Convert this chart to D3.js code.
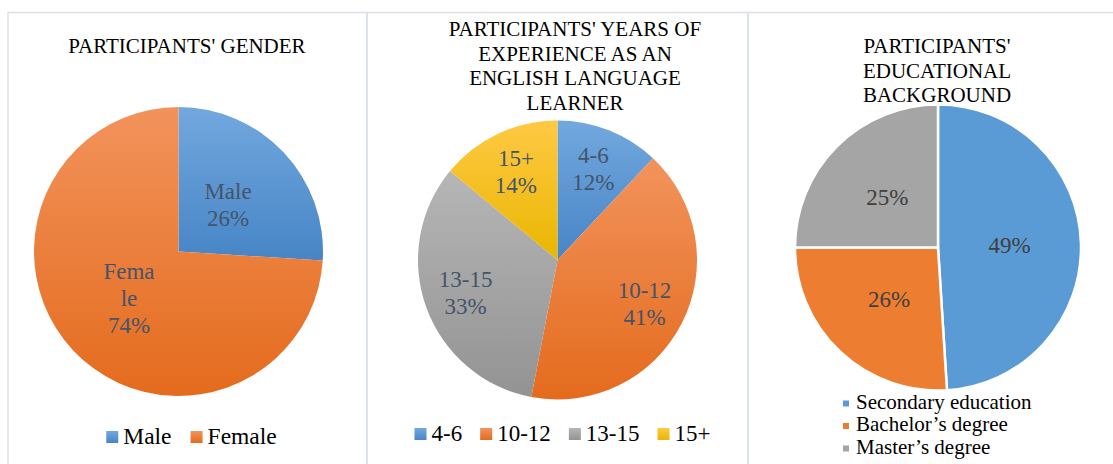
<!DOCTYPE html>
<html>
<head>
<meta charset="utf-8">
<script src="https://cdn.jsdelivr.net/npm/d3@7"></script>
<style>
  html, body { margin: 0; padding: 0; background: #fff; }
  svg text { font-family: "Liberation Serif", Tinos, "Times New Roman", Times, "DejaVu Serif", serif; }
</style>
</head>
<body>
<svg id="chart" width="1113" height="464"></svg>
<script>
// ---- data ----
const genderTitle = ["PARTICIPANTS' GENDER"];
const genderCats = ["Male", "Female"];
const genderLabels = [["Male", "26%"], ["Fema", "le", "74%"]];
const genderVals = [26, 74];

const expTitle = ["PARTICIPANTS' YEARS OF", "EXPERIENCE AS AN", "ENGLISH LANGUAGE", "LEARNER"];
const expCats = ["4-6", "10-12", "13-15", "15+"];
const expVals = [12, 41, 33, 14];

const eduTitle = ["PARTICIPANTS'", "EDUCATIONAL", "BACKGROUND"];
const eduCats = ["Secondary education", "Bachelor\u2019s degree", "Master\u2019s degree"];
const eduVals = [49, 26, 25];

const FONT = '"Liberation Serif", Tinos, "Times New Roman", Times, "DejaVu Serif", serif';

// ---- styles ----
const svg = d3.select("#chart");
const defs = svg.append("defs");
const palette = {
  blue:   {base: "#5b9bd5", top: "#72a8de", bot: "#4785c6"},
  orange: {base: "#ed7d31", top: "#f2935c", bot: "#e46b1d"},
  gray:   {base: "#a5a5a5", top: "#b6b6b6", bot: "#939393"},
  yellow: {base: "#ffc000", top: "#ffc944", bot: "#e9b600"}
};
Object.entries(palette).forEach(([k, c]) => {
  const g = defs.append("linearGradient").attr("id", "g-" + k)
    .attr("x1", 0).attr("y1", 0).attr("x2", 0).attr("y2", 1);
  g.append("stop").attr("offset", "0%").attr("stop-color", c.top);
  g.append("stop").attr("offset", "100%").attr("stop-color", c.bot);
});

// ---- panel frames ----
const frame = svg.append("g");
frame.append("line").attr("x1", 8).attr("x2", 1113).attr("y1", 12.5).attr("y2", 12.5)
  .attr("stroke", "#dbe0e6").attr("stroke-width", 1.5);
[8, 367, 748].forEach((x, i) => {
  frame.append("line").attr("x1", x).attr("x2", x).attr("y1", 12).attr("y2", 464)
    .attr("stroke", "#dce2e9").attr("stroke-width", i === 0 ? 1.5 : 2);
});

function drawTitle(lines, cx, firstBaseline, lh) {
  const t = svg.append("text").attr("text-anchor", "middle").attr("font-family", FONT)
    .attr("font-size", 21).attr("fill", "#000");
  lines.forEach((l, i) => t.append("tspan").attr("x", cx)
    .attr("y", firstBaseline + i * lh).text(l));
}

function drawPie(opt) {
  const g = svg.append("g").attr("transform", `translate(${opt.cx},${opt.cy})`);
  const pie = d3.pie().sort(null).value(d => d.v);
  const arcs = pie(opt.cats.map((c, i) => ({c, v: opt.vals[i], i})));
  const arc = d3.arc().innerRadius(0).outerRadius(opt.r);
  g.selectAll("path").data(arcs).join("path")
    .attr("d", arc)
    .attr("fill", d => opt.fill(d.data.i))
    .attr("stroke", opt.stroke || "none")
    .attr("stroke-width", opt.strokeWidth || 0)
    .attr("stroke-linejoin", "round");
  const lr = opt.r * opt.labelFrac;
  const la = d3.arc().innerRadius(lr).outerRadius(lr);
  arcs.forEach(d => {
    const [x, y] = la.centroid(d);
    const lines = opt.labelLines(d.data.i);
    const n = lines.length;
    const t = g.append("text").attr("text-anchor", "middle").attr("font-family", FONT)
      .attr("font-size", opt.labelSize).attr("fill", opt.labelColor);
    lines.forEach((l, k) => t.append("tspan").attr("x", x)
      .attr("y", y - (n - 1) * opt.lh / 2 + k * opt.lh + 0.33 * opt.labelSize).text(l));
  });
}

function drawHLegend(cats, fills, cx, baseline, fs, sq, gapText, gapItem) {
  const g = svg.append("g");
  const items = cats.map((c, i) => {
    const t = g.append("text").attr("font-family", FONT).attr("font-size", fs).attr("fill", "#000").text(c);
    return {t, w: t.node().getComputedTextLength(), i};
  });
  const total = items.reduce((s, it) => s + sq + gapText + it.w, 0) + gapItem * (items.length - 1);
  let x = cx - total / 2;
  items.forEach(it => {
    g.append("rect").attr("x", x).attr("y", baseline - sq - 1).attr("width", sq).attr("height", sq)
      .attr("fill", fills[it.i]);
    it.t.attr("x", x + sq + gapText).attr("y", baseline);
    x += sq + gapText + it.w + gapItem;
  });
}

// ---- chart 1: gender ----
const gFill = ["url(#g-blue)", "url(#g-orange)"];
drawTitle(genderTitle, 187, 53, 24.6);
drawPie({
  cx: 178.5, cy: 251.5, r: 144.5, cats: genderCats, vals: genderVals,
  fill: i => gFill[i], labelFrac: 0.47, labelSize: 23, lh: 27, labelColor: "#44546a",
  labelLines: i => genderLabels[i]
});
drawHLegend(genderCats, gFill, 191.5, 444, 23.5, 12, 5, 19);

// ---- chart 2: experience ----
const eFill = ["url(#g-blue)", "url(#g-orange)", "url(#g-gray)", "url(#g-yellow)"];
drawTitle(expTitle, 575, 36, 24.7);
drawPie({
  cx: 557.5, cy: 260, r: 139.5, cats: expCats, vals: expVals,
  fill: i => eFill[i], labelFrac: 0.7, labelSize: 23, lh: 27, labelColor: "#44546a",
  labelLines: i => [expCats[i], expVals[i] + "%"]
});
drawHLegend(expCats, eFill, 562.5, 441, 23, 12, 5, 18);

// ---- chart 3: education ----
const uFill = [palette.blue.base, palette.orange.base, palette.gray.base];
drawTitle(eduTitle, 937, 53, 24.5);
drawPie({
  cx: 938, cy: 247.5, r: 143, cats: eduCats, vals: eduVals,
  fill: i => uFill[i], stroke: "#fff", strokeWidth: 2.5,
  labelFrac: 0.5, labelSize: 23, lh: 27, labelColor: "#404040",
  labelLines: i => [eduVals[i] + "%"]
});
const leg3 = svg.append("g");
eduCats.forEach((c, i) => {
  const b = 408.5 + i * 22.5;
  leg3.append("rect").attr("x", 843).attr("y", b - 8).attr("width", 6).attr("height", 6)
    .attr("fill", uFill[i]);
  leg3.append("text").attr("x", 856).attr("y", b).attr("font-family", FONT)
    .attr("font-size", 21).attr("fill", "#000").text(c);
});
</script>
</body>
</html>
